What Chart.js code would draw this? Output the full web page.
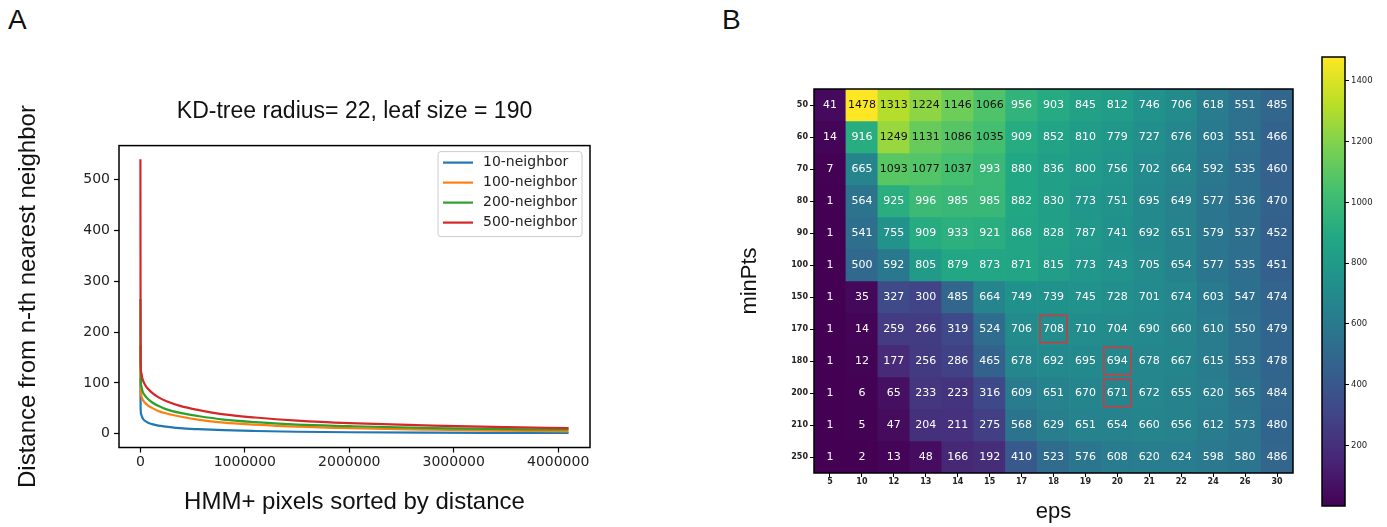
<!DOCTYPE html>
<html>
<head>
<meta charset="utf-8">
<script src="https://cdn.jsdelivr.net/npm/chart.js@4.4.1/dist/chart.umd.min.js"></script>
<style>
  body { margin: 0; background: #fff; width: 1387px; height: 527px; position: relative; overflow: hidden; }
  canvas { position: absolute; }
  .panel { position: absolute; font-family: "Liberation Sans", Arial, sans-serif; font-size: 28px; color: #111; }
</style>
</head>
<body>
<div class="panel" style="left:8px;top:4px">A</div>
<div class="panel" style="left:722px;top:4px">B</div>
<canvas id="knn" width="605" height="527" style="left:0;top:0"></canvas>
<canvas id="heat" width="580" height="527" style="left:730px;top:0"></canvas>
<canvas id="cbar" width="87" height="527" style="left:1300px;top:0"></canvas>
<script>
// ---- panel A data: distance to n-th neighbour, pixels sorted by distance
var pixelRank = [0, 2000, 8000, 20000, 40000, 70000, 110000, 170000, 250000, 380000,
                 550000, 800000, 1100000, 1500000, 2000000, 2800000, 3500000, 4100000];
var dist10  = [110, 50, 38, 31, 26, 22, 19, 16, 14, 11, 9, 7, 5.5, 4, 3, 2.2, 1.8, 1.5];
var dist100 = [175, 95, 76, 68, 62, 56, 51, 45, 40, 34, 28, 22, 18, 14, 11, 8, 6, 4.5];
var dist200 = [265, 120, 95, 84, 76, 69, 62, 55, 48, 41, 35, 28, 23, 18, 15, 11, 9, 8];
var dist500 = [540, 150, 120, 108, 98, 89, 81, 72, 64, 55, 47, 38, 32, 26, 21, 16, 13, 11];
var seriesNames = ['10-neighbor', '100-neighbor', '200-neighbor', '500-neighbor'];
var xTicks = [0, 1000000, 2000000, 3000000, 4000000];
var yTicks = [0, 100, 200, 300, 400, 500];

// ---- panel B data: number of clusters for each minPts / eps pair
var epsLabels = ['5', '10', '12', '13', '14', '15', '17', '18', '19', '20', '21', '22', '24', '26', '30'];
var minPtsLabels = ['50', '60', '70', '80', '90', '100', '150', '170', '180', '200', '210', '250'];
var clusterCounts = [
  [41, 1478, 1313, 1224, 1146, 1066, 956, 903, 845, 812, 746, 706, 618, 551, 485],
  [14, 916, 1249, 1131, 1086, 1035, 909, 852, 810, 779, 727, 676, 603, 551, 466],
  [7, 665, 1093, 1077, 1037, 993, 880, 836, 800, 756, 702, 664, 592, 535, 460],
  [1, 564, 925, 996, 985, 985, 882, 830, 773, 751, 695, 649, 577, 536, 470],
  [1, 541, 755, 909, 933, 921, 868, 828, 787, 741, 692, 651, 579, 537, 452],
  [1, 500, 592, 805, 879, 873, 871, 815, 773, 743, 705, 654, 577, 535, 451],
  [1, 35, 327, 300, 485, 664, 749, 739, 745, 728, 701, 674, 603, 547, 474],
  [1, 14, 259, 266, 319, 524, 706, 708, 710, 704, 690, 660, 610, 550, 479],
  [1, 12, 177, 256, 286, 465, 678, 692, 695, 694, 678, 667, 615, 553, 478],
  [1, 6, 65, 233, 223, 316, 609, 651, 670, 671, 672, 655, 620, 565, 484],
  [1, 5, 47, 204, 211, 275, 568, 629, 651, 654, 660, 656, 612, 573, 480],
  [1, 2, 13, 48, 166, 192, 410, 523, 576, 608, 620, 624, 598, 580, 486]
];
var highlighted = [['18', '170'], ['20', '180'], ['20', '200']]; // [eps, minPts]
var colorTicks = [200, 400, 600, 800, 1000, 1200, 1400];
var colorMin = 1;
var colorMax = 1478;

var lineColors = ['#1f77b4', '#ff7f0e', '#2ca02c', '#d62728'];
var viridisStops = ['#440154', '#482475', '#414487', '#355f8d', '#2a788e', '#21918c',
                    '#22a884', '#44bf70', '#7ad151', '#bddf26', '#fde725'];

var hexToRgb = function(h) {
  return [parseInt(h.slice(1, 3), 16), parseInt(h.slice(3, 5), 16), parseInt(h.slice(5, 7), 16)];
}

var viridis = function(v) {
  var t = Math.max(0, Math.min(1, (v - colorMin) / (colorMax - colorMin)));
  var pos = t * (viridisStops.length - 1);
  var i = Math.min(Math.floor(pos), viridisStops.length - 2);
  var f = pos - i;
  var a = hexToRgb(viridisStops[i]), b = hexToRgb(viridisStops[i + 1]);
  return 'rgb(' + [0, 1, 2].map(k => Math.round(a[k] + (b[k] - a[k]) * f)).join(',') + ')';
}

// black box round the plot area, like matplotlib spines
var frame = {
  id: 'frame',
  afterDraw: function(chart) {
    var a = chart.chartArea, ctx = chart.ctx;
    ctx.save();
    ctx.strokeStyle = '#000';
    ctx.lineWidth = 1.5;
    ctx.strokeRect(a.left, a.top, a.right - a.left, a.bottom - a.top);
    ctx.restore();
  }
};

// matplotlib style legend box in the upper right corner
var boxLegend = {
  id: 'boxLegend',
  afterDatasetsDraw: function(chart) {
    var a = chart.chartArea, ctx = chart.ctx;
    var w = 144, h = 85, x0 = a.right - 8 - w, y0 = a.top + 6, r = 3;
    ctx.save();
    ctx.beginPath();
    ctx.moveTo(x0 + r, y0);
    ctx.arcTo(x0 + w, y0, x0 + w, y0 + h, r);
    ctx.arcTo(x0 + w, y0 + h, x0, y0 + h, r);
    ctx.arcTo(x0, y0 + h, x0, y0, r);
    ctx.arcTo(x0, y0, x0 + w, y0, r);
    ctx.closePath();
    ctx.fillStyle = 'rgba(255,255,255,0.8)';
    ctx.fill();
    ctx.strokeStyle = '#cccccc';
    ctx.lineWidth = 1;
    ctx.stroke();
    ctx.font = '14px "DejaVu Sans"';
    ctx.textBaseline = 'middle';
    chart.data.datasets.forEach(function(ds, i) {
      var y = y0 + 11 + i * 20;
      ctx.strokeStyle = ds.borderColor;
      ctx.lineWidth = 2.2;
      ctx.beginPath();
      ctx.moveTo(x0 + 5, y);
      ctx.lineTo(x0 + 35, y);
      ctx.stroke();
      ctx.fillStyle = '#222';
      ctx.fillText(ds.label, x0 + 45, y);
    });
    ctx.restore();
  }
};

var tickFont = { family: 'DejaVu Sans', size: 14 };
var labelFont = { family: 'Liberation Sans', size: 24 };
var seriesValues = [dist10, dist100, dist200, dist500];

var knnChart = new Chart(document.getElementById('knn'), {
  type: 'line',
  data: {
    datasets: seriesNames.map(function(name, i) {
      return {
        label: name,
        data: pixelRank.map((x, j) => ({ x: x, y: seriesValues[i][j] })),
        borderColor: lineColors[i],
        borderWidth: 2.2,
        pointRadius: 0,
        fill: false,
        cubicInterpolationMode: 'monotone',
        order: 4 - i
      };
    })
  },
  options: {
    responsive: false,
    animation: false,
    layout: { padding: { left: 5, right: 15, top: 0, bottom: 0 } },
    plugins: {
      legend: { display: false },
      tooltip: { enabled: false },
      title: {
        display: true,
        fullSize: false,
        text: 'KD-tree radius= 22, leaf size = 190',
        color: '#111',
        font: { family: 'Liberation Sans', size: 23, weight: 'normal' },
        padding: { top: 98, bottom: 20 }
      }
    },
    scales: {
      x: {
        type: 'linear',
        min: -205000,
        max: 4305000,
        afterBuildTicks: function(s) { s.ticks = xTicks.map(v => ({ value: v })); },
        afterFit: function(s) { s.height = 79.5; },
        ticks: { color: '#222', font: tickFont, padding: 1, maxRotation: 0, callback: v => String(v) },
        grid: { drawOnChartArea: false, color: '#000', tickLength: 5, tickWidth: 1.2 },
        border: { display: false },
        title: { display: true, text: 'HMM+ pixels sorted by distance', color: '#111', font: labelFont, padding: { top: 0, bottom: 10 } }
      },
      y: {
        type: 'linear',
        min: -27,
        max: 567,
        afterBuildTicks: function(s) { s.ticks = yTicks.map(v => ({ value: v })); },
        afterFit: function(s) { s.width = 114; },
        ticks: { color: '#222', font: tickFont, padding: 4, callback: v => String(v) },
        grid: { drawOnChartArea: false, color: '#000', tickLength: 5, tickWidth: 1.2 },
        border: { display: false },
        title: { display: true, text: 'Distance from n-th nearest neighbor', color: '#111', font: labelFont, padding: { top: 9, bottom: 0 } }
      }
    }
  },
  plugins: [boxLegend, frame]
});

// numbers in the cells and the red boxes
var cellText = {
  id: 'cellText',
  afterDatasetsDraw: function(chart) {
    var ctx = chart.ctx;
    ctx.save();
    ctx.font = '11px "DejaVu Sans"';
    ctx.textAlign = 'center';
    ctx.textBaseline = 'middle';
    chart.data.datasets.forEach(function(ds, r) {
      chart.getDatasetMeta(r).data.forEach(function(bar, c) {
        var v = clusterCounts[r][c];
        ctx.fillStyle = v > 1010 ? '#111' : '#fff';
        ctx.fillText(String(v), bar.x, (bar.y + bar.base) / 2 + 0.5);
      });
    });
    ctx.strokeStyle = '#d9363e';
    ctx.lineWidth = 1.5;
    highlighted.forEach(function(hl) {
      var c = epsLabels.indexOf(hl[0]), r = minPtsLabels.indexOf(hl[1]);
      var bar = chart.getDatasetMeta(r).data[c];
      var top = Math.min(bar.y, bar.base), bottom = Math.max(bar.y, bar.base);
      ctx.strokeRect(bar.x - bar.width / 2 + 2.5, top + 2.5, bar.width - 5, bottom - top - 5);
    });
    ctx.restore();
  }
};

var smallTick = { family: 'DejaVu Sans', size: 8, weight: 'bold' };

var heatChart = new Chart(document.getElementById('heat'), {
  type: 'bar',
  data: {
    labels: epsLabels,
    datasets: minPtsLabels.map(function(m, r) {
      return {
        label: m,
        data: clusterCounts[r].map(() => 1),
        backgroundColor: clusterCounts[r].map(v => viridis(v)),
        borderWidth: 0,
        barPercentage: 1,
        categoryPercentage: 1
      };
    })
  },
  options: {
    responsive: false,
    animation: false,
    layout: { padding: { left: 0, right: 17, top: 89, bottom: 2 } },
    plugins: { legend: { display: false }, tooltip: { enabled: false } },
    scales: {
      x: {
        stacked: true,
        afterFit: function(s) { s.height = 52; },
        ticks: { color: '#222', font: smallTick, padding: 0, maxRotation: 0 },
        grid: { drawOnChartArea: false, offset: false, color: '#000', tickLength: 4 },
        border: { display: false },
        title: { display: true, text: 'eps', color: '#111', font: { family: 'Liberation Sans', size: 22 }, padding: { top: 0, bottom: 0 } }
      },
      y: {
        type: 'linear',
        stacked: true,
        reverse: true,
        min: 0,
        max: minPtsLabels.length,
        afterBuildTicks: function(s) { s.ticks = minPtsLabels.map((m, i) => ({ value: i + 0.5 })); },
        afterFit: function(s) { s.width = 84; },
        ticks: { color: '#222', font: smallTick, padding: 2, callback: v => minPtsLabels[Math.floor(v)] },
        grid: { drawOnChartArea: false, color: '#000', tickLength: 4 },
        border: { display: false },
        title: { display: true, text: 'minPts', color: '#111', font: { family: 'Liberation Sans', size: 22 }, padding: { top: 7, bottom: 0 } }
      }
    }
  },
  plugins: [cellText, frame]
});

var cbarChart = new Chart(document.getElementById('cbar'), {
  type: 'bar',
  data: {
    labels: [''],
    datasets: [{
      data: [[colorMin, colorMax]],
      backgroundColor: function(c) {
        var a = c.chart.chartArea;
        if (!a) return viridisStops[0];
        var g = c.chart.ctx.createLinearGradient(0, a.bottom, 0, a.top);
        viridisStops.forEach((s, i) => g.addColorStop(i / (viridisStops.length - 1), s));
        return g;
      },
      borderWidth: 0,
      barPercentage: 1,
      categoryPercentage: 1
    }]
  },
  options: {
    responsive: false,
    animation: false,
    layout: { padding: { left: 22, right: 0, top: 57, bottom: 21 } },
    plugins: { legend: { display: false }, tooltip: { enabled: false } },
    scales: {
      x: { display: false },
      y: {
        position: 'right',
        min: colorMin,
        max: colorMax,
        afterBuildTicks: function(s) { s.ticks = colorTicks.map(v => ({ value: v })); },
        afterFit: function(s) { s.width = 42; },
        ticks: { color: '#222', font: { family: 'DejaVu Sans', size: 8.5 }, padding: 2, callback: v => String(v) },
        grid: { drawOnChartArea: false, color: '#000', tickLength: 4 },
        border: { display: false }
      }
    }
  },
  plugins: [frame]
});
</script>
</body>
</html>
